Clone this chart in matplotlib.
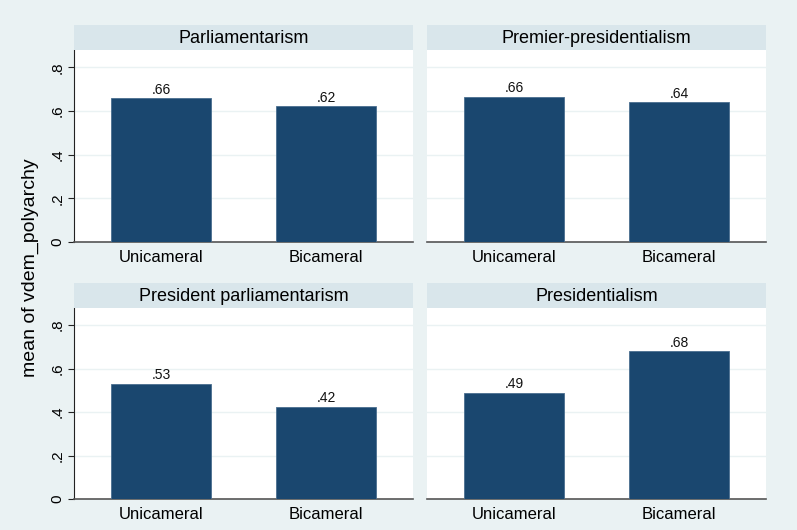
import matplotlib.pyplot as plt

plt.rcParams['font.family'] = ['Liberation Sans', 'DejaVu Sans']

# data
panels = ["Parliamentarism", "Premier-presidentialism",
          "President parliamentarism", "Presidentialism"]
categories = ["Unicameral", "Bicameral"]
unicameral = [0.658, 0.664, 0.529, 0.49]
bicameral = [0.621, 0.639, 0.423, 0.68]
value_labels = [[".66", ".62"], [".66", ".64"], [".53", ".42"], [".49", ".68"]]
yticks = [0, 0.2, 0.4, 0.6, 0.8]
ytick_labels = ["0", ".2", ".4", ".6", ".8"]

bg = "#eaf2f3"
strip_col = "#d9e6eb"
bar_col = "#1a476f"

W, H = 797, 530
fig = plt.figure(figsize=(W / 100, H / 100), dpi=100, facecolor=bg)

# panel boxes in pixels: left, plot-top, plot-bottom
lefts = [74, 427, 74, 427]
tops = [50, 50, 308, 308]
bottoms = [242, 242, 499, 499]
pw = 339
strip_h = 25

for i, name in enumerate(panels):
    l, t, b = lefts[i], tops[i], bottoms[i]
    ax = fig.add_axes([l / W, 1 - b / H, pw / W, (b - t) / H])
    ax.set_facecolor("white")
    vals = [unicameral[i], bicameral[i]]
    ax.bar([0, 1], vals, width=0.604, color=bar_col, edgecolor="#4a6e8f", linewidth=0.6, zorder=3)
    for x, v, lab in zip([0, 1], vals, value_labels[i]):
        ax.text(x, v + 0.008, lab, ha="center", va="bottom", fontsize=10, color="#111111")
    ax.set_xlim(-0.526, 1.526)
    ax.set_ylim(0, 0.879)
    for y in yticks[1:]:
        ax.axhline(y, color=bg, linewidth=1, zorder=1)
    ax.set_xticks([0, 1])
    ax.set_xticklabels(categories, fontsize=12)
    ax.tick_params(axis="x", length=0, pad=6)
    ax.spines["top"].set_visible(False)
    ax.spines["right"].set_visible(False)
    ax.spines["bottom"].set_color("#555555")
    ax.spines["bottom"].set_linewidth(1.2)
    if i % 2 == 0:
        ax.spines["left"].set_color("#222222")
        ax.set_yticks(yticks)
        ax.set_yticklabels(ytick_labels, fontsize=11, rotation=90, va="center")
        ax.tick_params(axis="y", length=4, width=0.8, color="#222222", pad=3)
    else:
        ax.spines["left"].set_visible(False)
        ax.set_yticks([])

    sax = fig.add_axes([l / W, 1 - t / H, pw / W, strip_h / H])
    sax.set_facecolor(strip_col)
    for s in sax.spines.values():
        s.set_visible(False)
    sax.set_xticks([])
    sax.set_yticks([])
    sax.text(0.5, 0.45, name, ha="center", va="center", fontsize=13, transform=sax.transAxes)

fig.text(30 / W, 1 - 268 / H, "mean of vdem_polyarchy", rotation=90,
         ha="center", va="center", fontsize=14)

fig.savefig("out.png", dpi=100, facecolor=bg)
